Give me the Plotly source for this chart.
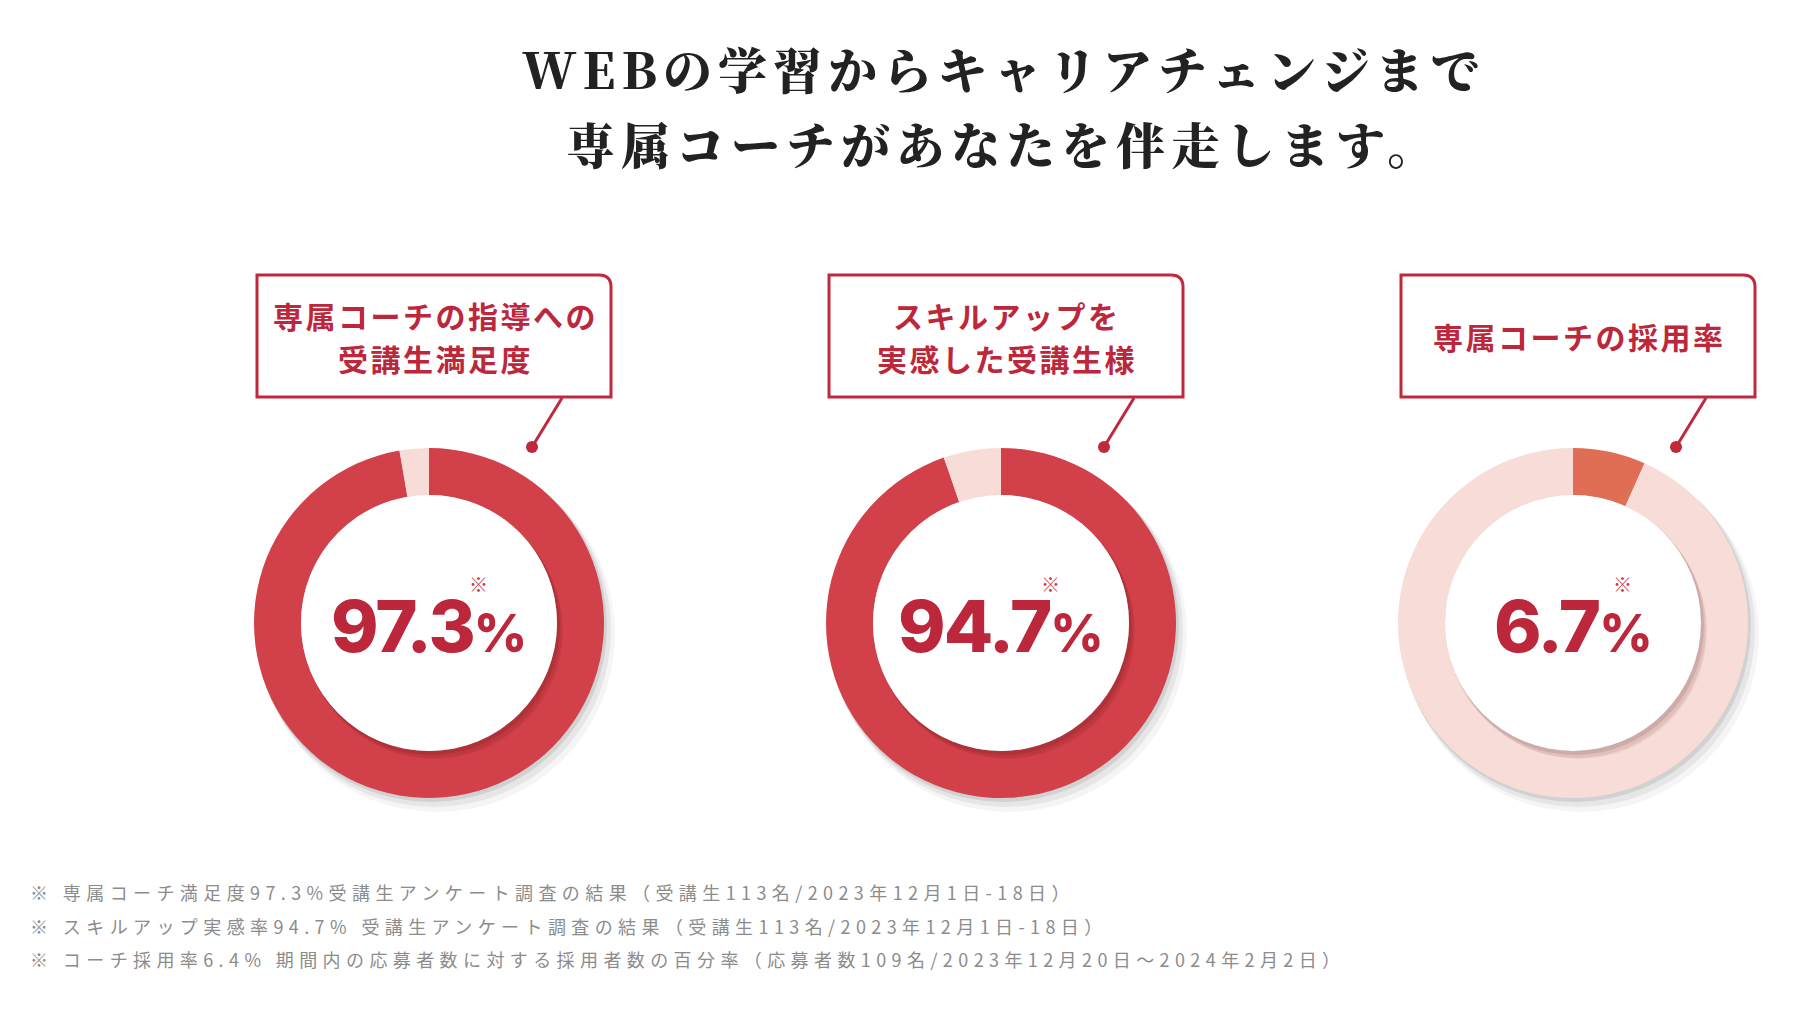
import plotly.graph_objects as go

# ---------------- data ----------------
title_lines = ["WEBの学習からキャリアチェンジまで", "専属コーチがあなたを伴走します。"]
categories = [
    ["専属コーチの指導への", "受講生満足度"],
    ["スキルアップを", "実感した受講生様"],
    ["専属コーチの採用率"],
]
values = [97.3, 94.7, 6.7]
value_labels = ["97.3", "94.7", "6.7"]
footnotes = [
    "※ 専属コーチ満足度97.3%受講生アンケート調査の結果（受講生113名/2023年12月1日-18日）",
    "※ スキルアップ実感率94.7% 受講生アンケート調査の結果（受講生113名/2023年12月1日-18日）",
    "※ コーチ採用率6.4% 期間内の応募者数に対する採用者数の百分率（応募者数109名/2023年12月20日～2024年2月2日）",
]

# ---------------- style / layout ----------------
W, H = 1803, 1017
RED = "#bd273b"
REST = "#f8dcd8"
value_colors = ["#d2404a", "#d2404a", "#e06e54"]
centers_x = [429, 1001, 1573]
CY = 623
R_OUT = 175
R_IN = 128
box_left = [257, 829, 1401]
BOX_W, BOX_T, BOX_B = 354, 275, 397


def px(x):
    return x / W


def py(y):
    return 1 - y / H


fig = go.Figure()
shapes = []
annotations = []

for i, v in enumerate(values):
    cx = centers_x[i]
    # outer soft shadow (below pie)
    for dx, dy, grow, a in [(2, 3, 1, 0.09), (5, 7, 2, 0.06), (8, 11, 3, 0.04)]:
        shapes.append(dict(type="circle", xref="paper", yref="paper", layer="below",
                           x0=px(cx - R_OUT - grow + dx), x1=px(cx + R_OUT + grow + dx),
                           y0=py(CY + R_OUT + grow + dy), y1=py(CY - R_OUT - grow + dy),
                           fillcolor=f"rgba(0,0,0,{a})", line=dict(width=0)))
    fig.add_trace(go.Pie(
        values=[v, 100 - v],
        labels=["value", "rest"],
        sort=False,
        direction="clockwise",
        rotation=0,
        hole=R_IN / R_OUT,
        textinfo="none",
        hoverinfo="skip",
        showlegend=False,
        marker=dict(colors=[value_colors[i], REST], line=dict(width=0)),
        domain=dict(x=[px(cx - R_OUT), px(cx + R_OUT)], y=[py(CY + R_OUT), py(CY - R_OUT)]),
    ))
    # inner disk shadow on the ring
    for dx, dy, grow, a in [(2, 3, 1, 0.10), (4, 6, 1, 0.08), (6, 8, 0, 0.05)]:
        shapes.append(dict(type="circle", xref="paper", yref="paper", layer="above",
                           x0=px(cx - R_IN - grow + dx), x1=px(cx + R_IN + grow + dx),
                           y0=py(CY + R_IN + grow + dy), y1=py(CY - R_IN - grow + dy),
                           fillcolor=f"rgba(60,0,0,{a})", line=dict(width=0)))
    shapes.append(dict(type="circle", xref="paper", yref="paper", layer="above",
                       x0=px(cx - R_IN), x1=px(cx + R_IN),
                       y0=py(CY + R_IN), y1=py(CY - R_IN),
                       fillcolor="white", line=dict(width=0)))
    # value text
    annotations.append(dict(
        x=px(cx), y=py(CY + 2), xref="paper", yref="paper", showarrow=False,
        xanchor="center", yanchor="middle",
        text=f"<span style='letter-spacing:-2px'>{value_labels[i]}</span><span style='font-size:52px'>%</span>",
        font=dict(family="Inter, Lato, sans-serif", size=72, color=RED, weight=800),
    ))
    annotations.append(dict(
        x=px(cx + 49), y=py(583), xref="paper", yref="paper", showarrow=False,
        xanchor="center", yanchor="middle", text="※",
        font=dict(family="Noto Sans CJK JP", size=19, color="#cc3a3c", weight=700),
    ))

    # callout box
    x0 = box_left[i]
    x1 = x0 + BOX_W
    rc = 12
    path = (f"M {px(x0)},{py(BOX_T)} L {px(x1 - rc)},{py(BOX_T)} "
            f"Q {px(x1)},{py(BOX_T)} {px(x1)},{py(BOX_T + rc)} "
            f"L {px(x1)},{py(BOX_B)} L {px(x0)},{py(BOX_B)} Z")
    shapes.append(dict(type="path", xref="paper", yref="paper", layer="above", path=path,
                       fillcolor="white", line=dict(color="#c0283c", width=3)))
    # connector
    lx0, ly0 = x0 + 305, BOX_B + 1
    lx1, ly1 = x0 + 275, 447
    shapes.append(dict(type="line", xref="paper", yref="paper", layer="above",
                       x0=px(lx0), y0=py(ly0), x1=px(lx1), y1=py(ly1),
                       line=dict(color="#c0283c", width=3)))
    shapes.append(dict(type="circle", xref="paper", yref="paper", layer="above",
                       x0=px(lx1 - 6), x1=px(lx1 + 6), y0=py(ly1 + 6), y1=py(ly1 - 6),
                       fillcolor="#c0283c", line=dict(width=0)))
    lines = categories[i]
    ys = [315, 358] if len(lines) == 2 else [336]
    for txt, yy in zip(lines, ys):
        annotations.append(dict(
            x=px(x0 + BOX_W / 2 + 1), y=py(yy), xref="paper", yref="paper", showarrow=False,
            xanchor="center", yanchor="middle",
            text=f"<span style='letter-spacing:2.5px'>{txt}</span>",
            font=dict(family="Noto Sans CJK JP", size=30, color=RED, weight=700),
        ))

# title
for txt, yy in zip(title_lines, [68, 143]):
    annotations.append(dict(
        x=px(1004), y=py(yy), xref="paper", yref="paper", showarrow=False,
        xanchor="center", yanchor="middle",
        text=f"<span style='letter-spacing:6px'>{txt}</span>",
        font=dict(family="Noto Serif CJK JP, Noto Sans CJK JP", size=49, color="#222222", weight=900),
    ))

# footnotes
for txt, yy in zip(footnotes, [892, 926, 959]):
    annotations.append(dict(
        x=px(28), y=py(yy), xref="paper", yref="paper", showarrow=False,
        xanchor="left", yanchor="middle",
        text=f"<span style='letter-spacing:5.4px'>{txt}</span>",
        font=dict(family="Noto Sans CJK JP", size=18, color="#8c8c8c"),
    ))

fig.update_layout(
    width=W, height=H,
    margin=dict(l=0, r=0, t=0, b=0),
    paper_bgcolor="white", plot_bgcolor="white",
    shapes=shapes, annotations=annotations,
)

fig.write_html("out.html")
